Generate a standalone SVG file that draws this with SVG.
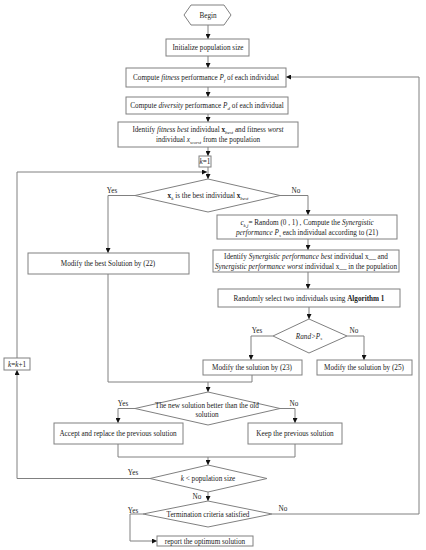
<svg xmlns="http://www.w3.org/2000/svg" width="426" height="550" viewBox="0 0 426 550">
<style>
.box{fill:#fff;stroke:#808080;stroke-width:1}
.ln{fill:none;stroke:#808080;stroke-width:1}
text{font-family:"Liberation Serif",serif;font-size:7.2px;fill:#1a1a1a;text-anchor:middle}
.lbl{font-size:7.2px}
.i{font-style:italic}
.b{font-weight:bold}
.s{font-size:5px}
</style>
<defs>
<marker id="ah" markerUnits="userSpaceOnUse" markerWidth="5" markerHeight="5" refX="5" refY="2.5" orient="auto">
<path d="M0,0 L5,2.5 L0,5 z" fill="#111"/>
</marker>
</defs>
<rect width="426" height="550" fill="#fff"/>
<g id="connectors">
<path class="ln" d="M208,25 V39" marker-end="url(#ah)"/>
<path class="ln" d="M208,56 V68" marker-end="url(#ah)"/>
<path class="ln" d="M208,87 V97" marker-end="url(#ah)"/>
<path class="ln" d="M208,114 V122" marker-end="url(#ah)"/>
<path class="ln" d="M208,147 V156" marker-end="url(#ah)"/>
<path class="ln" d="M208,167 V179" marker-end="url(#ah)"/>
<path class="ln" d="M272,514 H419 V77 H286" marker-end="url(#ah)"/>
<path class="ln" d="M150,478.5 H17 V370" marker-end="url(#ah)"/>
<path class="ln" d="M17,358 V172 H207" marker-end="url(#ah)"/>
<path class="ln" d="M135,195.5 H108 V253" marker-end="url(#ah)"/>
<path class="ln" d="M280,195.5 H308 V215" marker-end="url(#ah)"/>
<path class="ln" d="M108,274 V382 H252 V375"/>
<path class="ln" d="M208,382 V392" marker-end="url(#ah)"/>
<path class="ln" d="M308,239 V250" marker-end="url(#ah)"/>
<path class="ln" d="M308,272 V289" marker-end="url(#ah)"/>
<path class="ln" d="M309,307 V319" marker-end="url(#ah)"/>
<path class="ln" d="M273,336 H251 V360" marker-end="url(#ah)"/>
<path class="ln" d="M347,336 H364 V360" marker-end="url(#ah)"/>
<path class="ln" d="M135,408.5 H118 V423" marker-end="url(#ah)"/>
<path class="ln" d="M280,408.5 H295 V423" marker-end="url(#ah)"/>
<path class="ln" d="M118,444 V457 H295 V444"/>
<path class="ln" d="M208,457 V465" marker-end="url(#ah)"/>
<path class="ln" d="M208,492 V501" marker-end="url(#ah)"/>
<path class="ln" d="M143,514 H130 V541 H157" marker-end="url(#ah)"/>
<text class="lbl" x="112" y="193">Yes</text>
<text class="lbl" x="296" y="193">No</text>
<text class="lbl" x="257" y="333">Yes</text>
<text class="lbl" x="354" y="333">No</text>
<text class="lbl" x="123" y="406">Yes</text>
<text class="lbl" x="294" y="406">No</text>
<text class="lbl" x="133" y="475">Yes</text>
<text class="lbl" x="197" y="499">No</text>
<text class="lbl" x="133" y="513">Yes</text>
<text class="lbl" x="283" y="511">No</text>
</g>
<g id="begin">
<polygon class="box" points="184,15 191,5 224,5 231,15 224,25 191,25"/>
<text x="208" y="17.5">Begin</text>
</g>
<g id="init">
<rect class="box" x="166" y="39" width="83" height="17"/>
<text x="208" y="50">Initialize population size</text>
</g>
<g id="fitness">
<rect class="box" x="126" y="68" width="160" height="19"/>
<text x="206" y="80">Compute <tspan class="i">fitness</tspan> performance <tspan class="i">P</tspan><tspan class="i s" dy="1.5">f</tspan><tspan dy="-1.5"> of each individual</tspan></text>
</g>
<g id="diversity">
<rect class="box" x="126" y="97" width="162" height="17"/>
<text x="207" y="108">Compute <tspan class="i">diversity</tspan> performance <tspan class="i">P</tspan><tspan class="i s" dy="1.5">d</tspan><tspan dy="-1.5"> of each individual</tspan></text>
</g>
<g id="identify">
<rect class="box" x="118" y="122" width="180" height="25"/>
<text x="208" y="132">Identify <tspan class="i">fitness best</tspan> individual <tspan class="b">x</tspan><tspan class="i s" dy="1.5">best</tspan><tspan dy="-1.5">  and  fitness </tspan><tspan class="i">worst</tspan></text>
<text x="208" y="142">individual <tspan class="i">x</tspan><tspan class="i s" dy="1.5">worst</tspan><tspan dy="-1.5">   from the population</tspan></text>
</g>
<g id="k1">
<rect class="box" x="199" y="156" width="12" height="11"/>
<text x="205" y="164" font-size="6"><tspan class="i">k</tspan>=1</text>
</g>
<g id="d1">
<polygon class="box" points="208,179 280,195.5 208,212 135,195.5"/>
<text x="208" y="198"><tspan class="b">x</tspan><tspan class="i s" dy="1.5">k</tspan><tspan dy="-1.5">  is the  best individual </tspan><tspan class="b">x</tspan><tspan class="i s" dy="1.5">best</tspan></text>
</g>
<g id="modbest">
<rect class="box" x="28" y="253" width="161" height="21"/>
<text x="108" y="266">Modify the best Solution by (22)</text>
</g>
<g id="ckj">
<rect class="box" x="217" y="215" width="180" height="24"/>
<text x="307" y="225"><tspan class="i">c</tspan><tspan class="i s" dy="1.5">k,j</tspan><tspan dy="-1.5">= Random (0 , 1) , Compute the </tspan><tspan class="i">Synergistic</tspan></text>
<text x="307" y="235"><tspan class="i">performance  P</tspan><tspan class="i s" dy="1.5">s</tspan><tspan dy="-1.5"> each individual according to (21)</tspan></text>
</g>
<g id="idsyn">
<rect class="box" x="213" y="250" width="186" height="22"/>
<text x="306" y="259">Identify <tspan class="i">Synergistic performance best</tspan> individual  x__  and</text>
<text x="306" y="269"><tspan class="i">Synergistic performance worst</tspan> individual  x__  in the population</text>
</g>
<g id="randsel">
<rect class="box" x="218" y="289" width="182" height="18"/>
<text x="309" y="300.5">Randomly select two individuals using <tspan class="b">Algorithm 1</tspan></text>
</g>
<g id="drand">
<polygon class="box" points="309,319 347,336 309,353 273,336"/>
<text x="309" y="338.5" class="i">Rand&gt;P<tspan class="s" dy="1.5">s</tspan></text>
</g>
<g id="mod23">
<rect class="box" x="203" y="360" width="99" height="15"/>
<text x="252" y="370">Modify the solution  by  (23)</text>
</g>
<g id="mod25">
<rect class="box" x="317" y="360" width="95" height="15"/>
<text x="364" y="370">Modify the solution  by  (25)</text>
</g>
<g id="d2">
<polygon class="box" points="208,392 280,408.5 208,425 135,408.5"/>
<text x="207" y="408" font-size="7">The new solution better than the old</text>
<text x="207" y="417" font-size="7">solution</text>
</g>
<g id="accept">
<rect class="box" x="54" y="423" width="129" height="21"/>
<text x="118" y="436">Accept and replace the previous solution</text>
</g>
<g id="keep">
<rect class="box" x="248" y="423" width="94" height="21"/>
<text x="295" y="436">Keep the previous solution</text>
</g>
<g id="d3">
<polygon class="box" points="208,465 267,478.5 208,492 150,478.5"/>
<text x="208" y="481"><tspan class="i">k</tspan> &lt; population size</text>
</g>
<g id="d4">
<polygon class="box" points="208,501 272,514 208,527 143,514"/>
<text x="208" y="516.5">Termination criteria satisfied</text>
</g>
<g id="report">
<rect class="box" x="157" y="536" width="96" height="10"/>
<text x="205" y="543.5">report the optimum solution</text>
</g>
<g id="kk1">
<rect class="box" x="4" y="358" width="26" height="12"/>
<text x="17" y="366.5" font-size="6"><tspan class="i">k</tspan>=<tspan class="i">k</tspan>+1</text>
</g>
</svg>
